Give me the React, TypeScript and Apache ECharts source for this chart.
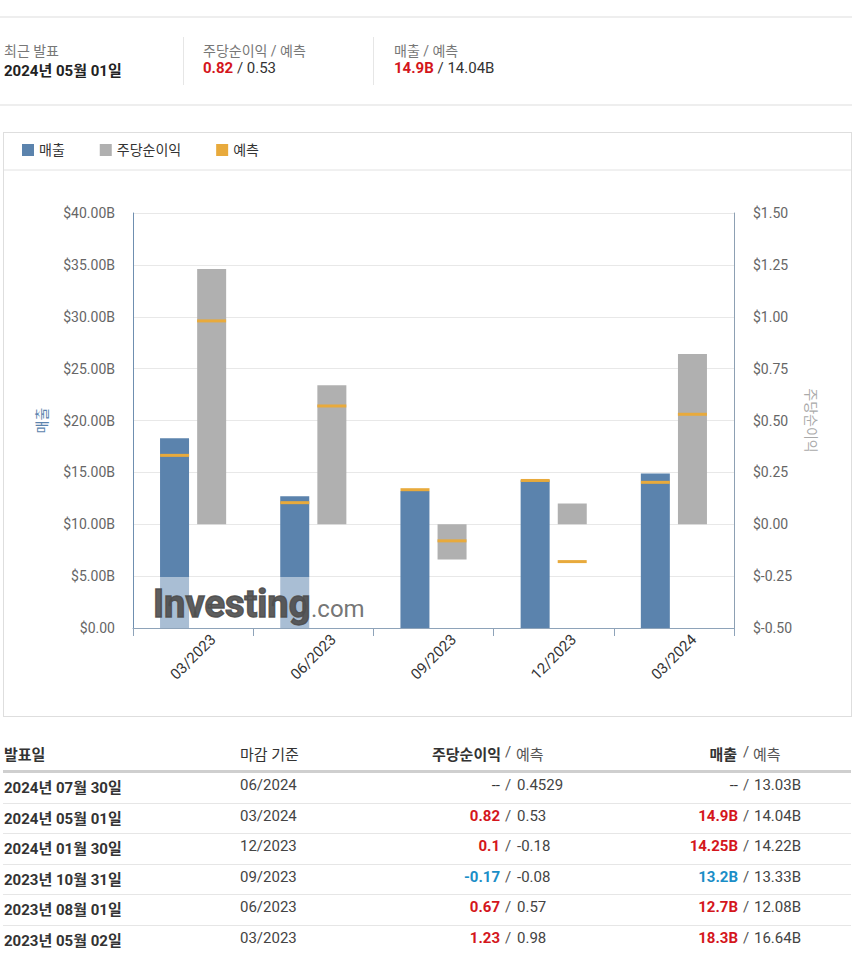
import React, { useEffect, useRef } from "react";
import * as echarts from "echarts";

// ---- chart data ----
const periods = ["03/2023", "06/2023", "09/2023", "12/2023", "03/2024"];
const revenue = [18.3, 12.7, 13.2, 14.25, 14.9];
const revenueForecast = [16.64, 12.08, 13.33, 14.22, 14.04];
const eps = [1.23, 0.67, -0.17, 0.1, 0.82];
const epsForecast = [0.98, 0.57, -0.08, -0.18, 0.53];
const revenueAxis = { min: 0, max: 40, interval: 5 };
const epsAxis = { min: -0.5, max: 1.5, interval: 0.25 };

// ---- table data ----
const releaseDates = ["2024년 07월 30일", "2024년 05월 01일", "2024년 01월 30일", "2023년 10월 31일", "2023년 08월 01일", "2023년 05월 02일"];
const periodEnds = ["06/2024", "03/2024", "12/2023", "09/2023", "06/2023", "03/2023"];
const epsActualText = ["--", "0.82", "0.1", "-0.17", "0.67", "1.23"];
const epsForecastText = ["0.4529", "0.53", "-0.18", "-0.08", "0.57", "0.98"];
const revActualText = ["--", "14.9B", "14.25B", "13.2B", "12.7B", "18.3B"];
const revForecastText = ["13.03B", "14.04B", "14.22B", "13.33B", "12.08B", "16.64B"];

const FONT = "Roboto, 'Noto Sans CJK KR', sans-serif";
const RED = "#d4161c";
const BLUE = "#1b8ec7";

function colorFor(actual: string, forecast: string) {
  const a = parseFloat(actual);
  const f = parseFloat(forecast);
  if (isNaN(a) || isNaN(f)) return "#333";
  return a >= f ? RED : BLUE;
}

function Chart() {
  const ref = useRef<HTMLDivElement>(null);
  useEffect(() => {
    if (!ref.current) return;
    const chart = echarts.init(ref.current, null, { renderer: "svg" });
    chart.setOption({
      animation: false,
      textStyle: { fontFamily: FONT },
      legend: {
        data: ["매출", "주당순이익", "예측"],
        left: 13,
        top: 5,
        icon: "rect",
        itemWidth: 12,
        itemHeight: 12,
        itemGap: 35,
        textStyle: { fontSize: 14, color: "#333", fontFamily: FONT },
      },
      grid: { left: 129, top: 80, width: 601, height: 415 },
      xAxis: {
        type: "category",
        data: periods,
        axisLine: { lineStyle: { color: "#8ea3b9" } },
        axisTick: { show: true, length: 8, lineStyle: { color: "#8ea3b9" } },
        axisLabel: {
          rotate: 45,
          align: "center",
          verticalAlign: "middle",
          margin: 29,
          fontSize: 15,
          color: "#333",
          fontFamily: FONT,
        },
        splitLine: { show: false },
      },
      yAxis: [
        {
          type: "value",
          position: "left",
          min: revenueAxis.min,
          max: revenueAxis.max,
          interval: revenueAxis.interval,
          axisLine: { show: true, lineStyle: { color: "#6f8fb0" } },
          axisTick: { show: false },
          axisLabel: {
            margin: 18,
            fontSize: 14,
            color: "#666",
            fontFamily: FONT,
            formatter: (v: number) => (v === 0 ? "$0.00" : `$${v.toFixed(2)}B`),
          },
          splitLine: { lineStyle: { color: "#e8e8e8" } },
          name: "매출",
          nameLocation: "middle",
          nameRotate: 90,
          nameGap: 84,
          nameTextStyle: { color: "#5b83ad", fontSize: 14, fontFamily: FONT },
        },
        {
          type: "value",
          position: "right",
          min: epsAxis.min,
          max: epsAxis.max,
          interval: epsAxis.interval,
          axisLine: { show: true, lineStyle: { color: "#8da0b3" } },
          axisTick: { show: false },
          axisLabel: {
            margin: 19,
            fontSize: 14,
            color: "#666",
            fontFamily: FONT,
            formatter: (v: number) => `$${v.toFixed(2)}`,
          },
          splitLine: { show: false },
          name: "주당순이익",
          nameLocation: "middle",
          nameRotate: -90,
          nameGap: 70,
          nameTextStyle: { color: "#aaa", fontSize: 14, fontFamily: FONT },
        },
      ],
      series: [
        {
          name: "매출",
          type: "bar",
          yAxisIndex: 0,
          data: revenue,
          barWidth: 29,
          barGap: "28%",
          itemStyle: { color: "#5b83ad" },
        },
        {
          name: "주당순이익",
          type: "bar",
          yAxisIndex: 1,
          data: eps,
          barWidth: 29,
          barGap: "28%",
          itemStyle: { color: "#b0b0b0" },
        },
        {
          name: "예측",
          type: "scatter",
          yAxisIndex: 0,
          data: revenueForecast,
          symbol: "rect",
          symbolSize: [29, 3],
          symbolOffset: [-18.5, 0],
          itemStyle: { color: "#e8aa3c", opacity: 1 },
          z: 3,
        },
        {
          name: "예측",
          type: "scatter",
          yAxisIndex: 1,
          data: epsForecast,
          symbol: "rect",
          symbolSize: [29, 3],
          symbolOffset: [18.5, 0],
          itemStyle: { color: "#e8aa3c", opacity: 1 },
          z: 3,
        },
      ],
      graphic: [
        {
          type: "line",
          shape: { x1: 0, y1: 37, x2: 847, y2: 37 },
          style: { stroke: "#e2e2e2", lineWidth: 1 },
        },
        {
          type: "rect",
          shape: { x: 146, y: 444, width: 220, height: 51 },
          style: { fill: "rgba(255,255,255,0.48)" },
          z: 10,
        },
        {
          type: "text",
          x: 149,
          y: 471,
          style: {
            text: "Investing",
            fontFamily: "Roboto, sans-serif",
            fontWeight: "bold",
            fontSize: 38,
            fill: "rgba(78,78,78,0.92)",
            stroke: "rgba(78,78,78,0.92)",
            lineWidth: 1.4,
            verticalAlign: "middle",
            align: "left",
          },
          z: 11,
        },
        {
          type: "text",
          x: 307,
          y: 476,
          style: {
            text: ".com",
            fontFamily: "Roboto, sans-serif",
            fontSize: 24,
            fill: "rgba(100,100,100,0.9)",
            verticalAlign: "middle",
            align: "left",
          },
          z: 11,
        },
      ],
    });
    return () => chart.dispose();
  }, []);
  return <div ref={ref} style={{ width: 847, height: 583 }} />;
}

export default function App() {
  const base: React.CSSProperties = { position: "absolute", whiteSpace: "nowrap" };
  const rowTop = 773;
  const rowH = 30.6;
  return (
    <div
      style={{
        position: "absolute",
        left: 0,
        top: 0,
        width: 862,
        height: 975,
        background: "#fff",
        fontFamily: FONT,
        color: "#333",
        overflow: "hidden",
      }}
    >
      {/* summary header */}
      <div style={{ ...base, left: 0, top: 16, width: 852, height: 2, background: "#eeeeee" }} />
      <div style={{ ...base, left: 4, top: 40, fontSize: 14, color: "#777" }}>최근 발표</div>
      <div style={{ ...base, left: 4, top: 59, fontSize: 15, fontWeight: "bold", color: "#222" }}>2024년 05월 01일</div>
      <div style={{ ...base, left: 183, top: 37, width: 1, height: 48, background: "#e6e6e6" }} />
      <div style={{ ...base, left: 203, top: 40, fontSize: 14, color: "#777" }}>주당순이익 / 예측</div>
      <div style={{ ...base, left: 203, top: 59, fontSize: 15, color: "#333" }}>
        <span style={{ color: RED, fontWeight: "bold" }}>0.82</span> / 0.53
      </div>
      <div style={{ ...base, left: 373, top: 37, width: 1, height: 48, background: "#e6e6e6" }} />
      <div style={{ ...base, left: 394, top: 40, fontSize: 14, color: "#777" }}>매출 / 예측</div>
      <div style={{ ...base, left: 394, top: 59, fontSize: 15, color: "#333" }}>
        <span style={{ color: RED, fontWeight: "bold" }}>14.9B</span> / 14.04B
      </div>
      <div style={{ ...base, left: 0, top: 104, width: 852, height: 2, background: "#eeeeee" }} />

      {/* chart box */}
      <div
        style={{
          position: "absolute",
          left: 3,
          top: 132,
          width: 849,
          height: 585,
          border: "1px solid #dedede",
          boxSizing: "border-box",
        }}
      />
      <div style={{ position: "absolute", left: 4, top: 133 }}>
        <Chart />
      </div>

      {/* table header */}
      <div style={{ ...base, left: 4, top: 743, fontSize: 15, fontWeight: "bold", color: "#333" }}>발표일</div>
      <div style={{ ...base, left: 240, top: 743, fontSize: 15, color: "#333" }}>마감 기준</div>
      <div style={{ ...base, right: 862 - 501, top: 743, fontSize: 15, fontWeight: "bold", color: "#333" }}>주당순이익</div>
      <div style={{ ...base, left: 505, top: 743, fontSize: 15, color: "#555" }}>/</div>
      <div style={{ ...base, left: 516, top: 743, fontSize: 15, color: "#555" }}>예측</div>
      <div style={{ ...base, right: 862 - 737, top: 743, fontSize: 15, fontWeight: "bold", color: "#333" }}>매출</div>
      <div style={{ ...base, left: 743, top: 743, fontSize: 15, color: "#555" }}>/</div>
      <div style={{ ...base, left: 753, top: 743, fontSize: 15, color: "#555" }}>예측</div>
      <div style={{ ...base, left: 3, top: 770, width: 848, height: 3, background: "#cfcfcf" }} />

      {releaseDates.map((d, i) => {
        const top = rowTop + i * rowH;
        const textTop = top + 3;
        return (
          <React.Fragment key={d}>
            <div style={{ ...base, left: 4, top: textTop, fontSize: 15, fontWeight: "bold", color: "#333" }}>{d}</div>
            <div style={{ ...base, left: 240, top: textTop, fontSize: 15, color: "#444" }}>{periodEnds[i]}</div>
            <div
              style={{
                ...base,
                right: 862 - 500,
                top: textTop,
                fontSize: 15,
                fontWeight: epsActualText[i] === "--" ? "normal" : "bold",
                color: colorFor(epsActualText[i], epsForecastText[i]),
              }}
            >
              {epsActualText[i]}
            </div>
            <div style={{ ...base, left: 505, top: textTop, fontSize: 15, color: "#555" }}>/</div>
            <div style={{ ...base, left: 517, top: textTop, fontSize: 15, color: "#444" }}>{epsForecastText[i]}</div>
            <div
              style={{
                ...base,
                right: 862 - 738,
                top: textTop,
                fontSize: 15,
                fontWeight: revActualText[i] === "--" ? "normal" : "bold",
                color: colorFor(revActualText[i], revForecastText[i]),
              }}
            >
              {revActualText[i]}
            </div>
            <div style={{ ...base, left: 743, top: textTop, fontSize: 15, color: "#555" }}>/</div>
            <div style={{ ...base, left: 754, top: textTop, fontSize: 15, color: "#444" }}>{revForecastText[i]}</div>
            {i < releaseDates.length - 1 && (
              <div style={{ ...base, left: 3, top: top + rowH - 1, width: 848, height: 1, background: "#e6e6e6" }} />
            )}
          </React.Fragment>
        );
      })}
    </div>
  );
}
